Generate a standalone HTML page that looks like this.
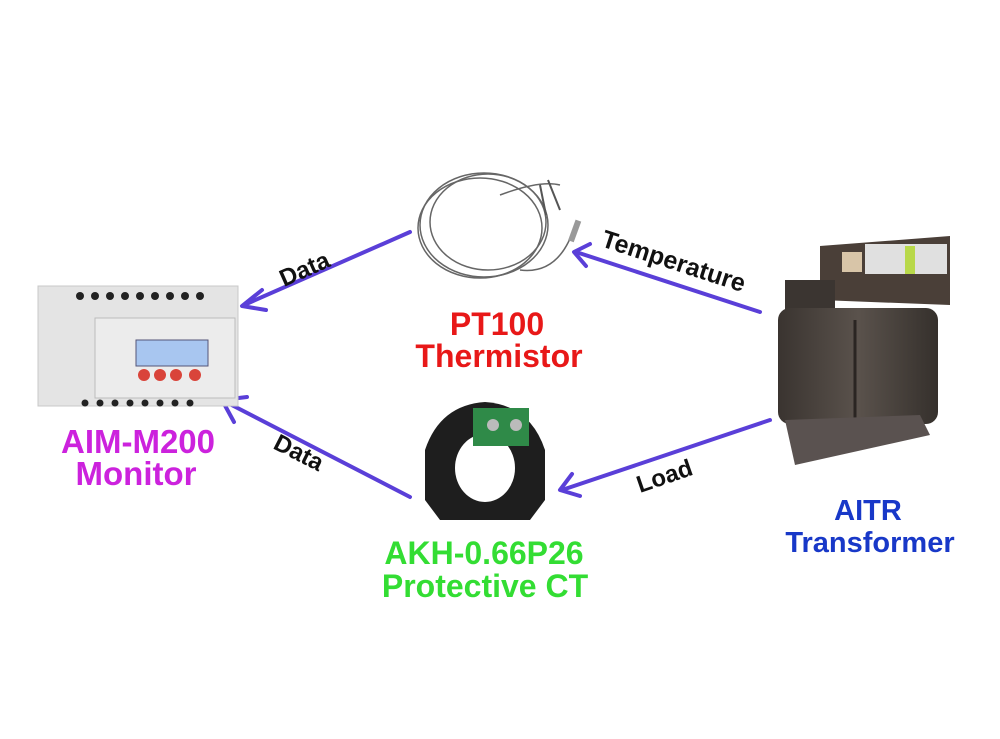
<!DOCTYPE html>
<html><head><style>
html,body{margin:0;padding:0;background:#fff;width:1000px;height:739px;overflow:hidden}
svg{display:block}
text{font-family:"Liberation Sans",sans-serif;font-weight:bold}
</style></head><body>
<svg width="1000" height="739" viewBox="0 0 1000 739">
<defs>
<linearGradient id="tr" x1="0" x2="1"><stop offset="0" stop-color="#3a3430"/><stop offset="0.5" stop-color="#5a524c"/><stop offset="1" stop-color="#35302c"/></linearGradient>
</defs>
<!-- arrows -->
<g stroke="#5a3fd8" stroke-width="4" fill="none" stroke-linecap="round" stroke-linejoin="round">
<line x1="410" y1="232" x2="244" y2="305"/><polyline points="262,290 242,306 266,310"/>
<line x1="760" y1="312" x2="576" y2="252"/><polyline points="590,244 574,252 586,266"/>
<line x1="770" y1="420" x2="562" y2="490"/><polyline points="572,474 560,490 580,496"/>
<line x1="410" y1="497" x2="222" y2="400"/><polyline points="234,422 222,400 247,397"/>
</g>
<text x="0" y="0" font-size="24" fill="#111" transform="translate(284,287) rotate(-24)">Data</text>
<text x="0" y="0" font-size="25" fill="#111" transform="translate(600,246) rotate(18)">Temperature</text>
<text x="0" y="0" font-size="24" fill="#111" transform="translate(640,493) rotate(-19)">Load</text>
<text x="0" y="0" font-size="24" fill="#111" transform="translate(272,448) rotate(27)">Data</text>
<!-- monitor -->
<g>
<rect x="38" y="286" width="200" height="120" fill="#e4e4e4" stroke="#c8c8c8"/>
<rect x="95" y="318" width="140" height="80" fill="#ececec" stroke="#bbb"/>
<g fill="#222"><circle cx="80" cy="296" r="4"/><circle cx="95" cy="296" r="4"/><circle cx="110" cy="296" r="4"/><circle cx="125" cy="296" r="4"/><circle cx="140" cy="296" r="4"/><circle cx="155" cy="296" r="4"/><circle cx="170" cy="296" r="4"/><circle cx="185" cy="296" r="4"/><circle cx="200" cy="296" r="4"/>
<circle cx="85" cy="403" r="3.5"/><circle cx="100" cy="403" r="3.5"/><circle cx="115" cy="403" r="3.5"/><circle cx="130" cy="403" r="3.5"/><circle cx="145" cy="403" r="3.5"/><circle cx="160" cy="403" r="3.5"/><circle cx="175" cy="403" r="3.5"/><circle cx="190" cy="403" r="3.5"/></g>
<rect x="136" y="340" width="72" height="26" fill="#a8c6f0" stroke="#557"/>
<g fill="#d9443a"><circle cx="144" cy="375" r="6"/><circle cx="160" cy="375" r="6"/><circle cx="176" cy="375" r="6"/><circle cx="195" cy="375" r="6"/></g>
</g>
<!-- thermistor coil -->
<g fill="none" stroke="#666" stroke-width="1.5">
<ellipse cx="484" cy="225" rx="64" ry="52"/><ellipse cx="488" cy="222" rx="58" ry="48"/><ellipse cx="480" cy="228" rx="62" ry="50"/>
<path d="M520,270 Q560,275 575,225"/><path d="M500,195 Q540,180 560,185"/>
</g>
<g stroke="#555" stroke-width="2"><line x1="548" y1="180" x2="560" y2="210"/><line x1="540" y1="185" x2="546" y2="215"/></g>
<rect x="572" y="220" width="6" height="22" fill="#999" transform="rotate(20 575 230)"/>
<!-- CT -->
<g>
<path d="M425,500 L425,450 Q440,405 485,402 Q530,405 545,450 L545,500 L530,520 L440,520 Z" fill="#1e1e1e"/>
<ellipse cx="485" cy="468" rx="30" ry="34" fill="#fff"/>
<rect x="473" y="408" width="56" height="38" fill="#2f8a48"/>
<circle cx="493" cy="425" r="6" fill="#bbb"/><circle cx="516" cy="425" r="6" fill="#bbb"/>
</g>
<!-- transformer -->
<g>
<path d="M820,246 L950,236 L950,305 L820,300 Z" fill="#4a3f38"/>
<rect x="785" y="280" width="50" height="30" fill="#3b3531"/>
<rect x="842" y="252" width="20" height="20" fill="#d8c5a8"/>
<rect x="865" y="244" width="82" height="30" fill="#e0e0e0"/>
<rect x="905" y="246" width="10" height="28" fill="#b8d84a"/>
<rect x="778" y="308" width="160" height="116" rx="12" fill="url(#tr)"/>
<line x1="855" y1="320" x2="855" y2="420" stroke="#2a2522" stroke-width="3"/>
<path d="M785,420 L795,465 L930,435 L920,415 Z" fill="#5a5250"/>
</g>
<!-- labels -->
<g font-size="32" text-anchor="middle">
<text x="497" y="335" fill="#e81818">PT100</text>
<text x="499" y="367" fill="#e81818">Thermistor</text>
<text x="138" y="453" fill="#cc22dd" font-size="33">AIM-M200</text>
<text x="136" y="485" fill="#cc22dd" font-size="33">Monitor</text>
<text x="484" y="564" fill="#33dd33">AKH-0.66P26</text>
<text x="485" y="597" fill="#33dd33">Protective CT</text>
<text x="868" y="520" fill="#1838c8" font-size="29">AITR</text>
<text x="870" y="552" fill="#1838c8" font-size="29">Transformer</text>
</g>
</svg>
</body></html>
